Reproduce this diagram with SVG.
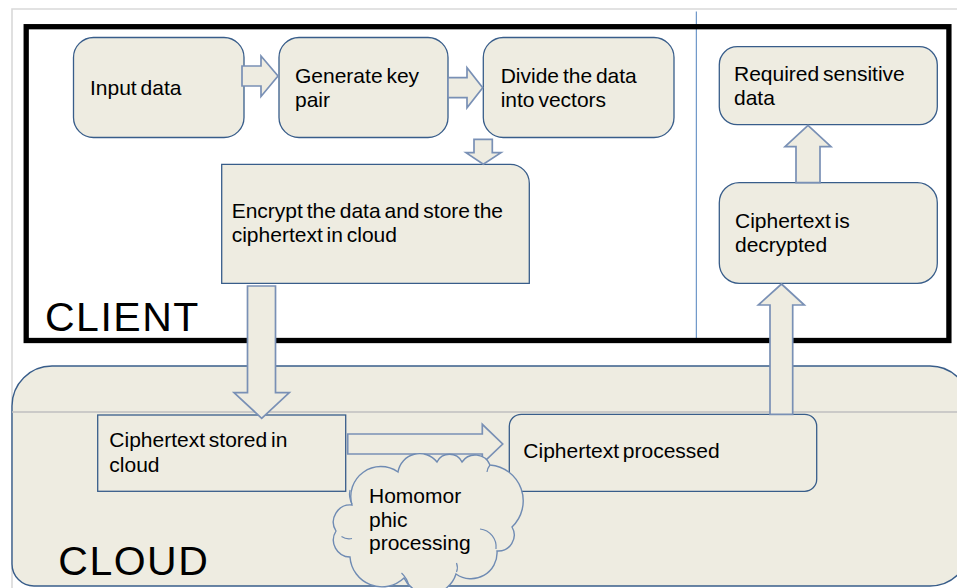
<svg xmlns="http://www.w3.org/2000/svg" width="957" height="588" viewBox="0 0 957 588">
  <style>
    .box { fill: #EEECE1; stroke: #385D8A; stroke-width: 1.3; }
    .arrow { fill: #EEECE1; stroke: #7990B5; stroke-width: 1.7; stroke-linejoin: miter; }
    .lbl { font-family: "Liberation Sans", Arial, sans-serif; font-size: 21px; word-spacing: -2px; fill: #000; }
    .big { font-family: "Liberation Sans", Arial, sans-serif; font-size: 41px; letter-spacing: 1.5px; fill: #000; }
  </style>

  <!-- page -->
  <rect x="0" y="0" width="957" height="588" fill="#fff"/>
  <path d="M12,588 V9 H957" fill="none" stroke="#D9D9D9" stroke-width="1.6"/>

  <!-- cloud region -->
  <g id="cloud-region">
    <path d="M12,406 A40,40 0 0 1 52,366 H930 A40,40 0 0 1 970,406 V546 A40,40 0 0 1 930,586 H34 A22,22 0 0 1 12,564 Z" fill="#EEECE1" stroke="#385D8A" stroke-width="1.4"/>
    <line x1="12" y1="412" x2="957" y2="412" stroke="#BFBFBF" stroke-width="1.6"/>
  </g>

  <!-- divider between encryption and decryption sides -->
  <line x1="696.3" y1="11.5" x2="696.3" y2="338" stroke="#4F81BD" stroke-width="1"/>

  <!-- client frame -->
  <g id="client-frame">
    <rect x="26.2" y="26.7" width="922.7" height="313.8" fill="none" stroke="#000" stroke-width="5.3"/>
  </g>

  <g id="input-data">
    <rect class="box" x="73.5" y="37.5" width="170.5" height="100" rx="20"/>
    <text class="lbl" x="90" y="95">Input data</text>
  </g>

  <g id="generate-key">
    <rect class="box" x="279" y="37.5" width="169" height="100" rx="20"/>
    <text class="lbl" x="295" y="83.3">Generate key</text>
    <text class="lbl" x="295" y="107.3">pair</text>
  </g>

  <g id="divide-data">
    <rect class="box" x="483.3" y="37.5" width="190.7" height="100" rx="20"/>
    <text class="lbl" x="500.7" y="82.7">Divide the data</text>
    <text class="lbl" x="500.7" y="106.7">into vectors</text>
  </g>

  <g id="encrypt-data">
    <path class="box" d="M221.7,164.3 H510.3 A19,19 0 0 1 529.3,183.3 V283.3 H221.7 Z"/>
    <text class="lbl" x="231.7" y="218.3">Encrypt the data and store the</text>
    <text class="lbl" x="231.7" y="242.3">ciphertext in cloud</text>
  </g>

  <g id="required-data">
    <rect class="box" x="719.3" y="46.7" width="218" height="78" rx="18"/>
    <text class="lbl" x="734" y="81">Required sensitive</text>
    <text class="lbl" x="734" y="104.7">data</text>
  </g>

  <g id="ciphertext-decrypted">
    <rect class="box" x="719.3" y="182.7" width="218" height="100.6" rx="20"/>
    <text class="lbl" x="735" y="228.3">Ciphertext is</text>
    <text class="lbl" x="735" y="252.3">decrypted</text>
  </g>

  <g id="ciphertext-stored">
    <rect class="box" x="97.7" y="415" width="248" height="76.3"/>
    <text class="lbl" x="109.3" y="447.3">Ciphertext stored in</text>
    <text class="lbl" x="109.3" y="471.7">cloud</text>
  </g>

  <g id="ciphertext-processed">
    <rect class="box" x="509.3" y="414.3" width="307.4" height="77" rx="12"/>
    <text class="lbl" x="523.3" y="458.3">Ciphertext processed</text>
  </g>

  <!-- block arrows between the steps -->
  <g id="connectors">
    <polygon class="arrow" points="242,66 261,66 261,56 278,76 261,96.5 261,86 242,86"/>
    <polygon class="arrow" points="448,77.7 467,77.7 467,67.7 482.7,87.7 467,107.7 467,97.7 448,97.7"/>
    <polygon class="arrow" points="474,139.3 492.3,139.3 492.3,152.7 501,152.7 483.3,164.3 466,152.7 474,152.7"/>
    <polygon class="arrow" points="247.5,286 275.5,286 275.5,392.7 289.3,392.7 261.7,418.3 234,392.7 247.5,392.7"/>
    <polygon class="arrow" points="347.7,434 482.3,434 482.3,424.3 502.7,444 482.3,463.5 482.3,454 347.7,454"/>
    <polygon class="arrow" points="770,414.3 770,305 758.3,305 781.5,284 804.3,305 792.7,305 792.7,414.3"/>
    <polygon class="arrow" points="796,182.7 796,146.7 785,146.7 808,125.3 831,146.7 820,146.7 820,182.7"/>
  </g>

  <g id="homomorphic-processing">
    <path d="M352,505 A30,30 0 0 1 398,472 A22,22 0 0 1 437,462 A14,14 0 0 1 462,462 A16,16 0 0 1 490,465 A36,36 0 0 1 512,527 A16,16 0 0 1 497,551 A26,26 0 0 1 456,574 A28,28 0 0 1 404,578 A32,32 0 0 1 350,557 A17,17 0 0 1 336,531 A17,17 0 0 1 352,505 Z" fill="#EEECE1" stroke="#6F8BB3" stroke-width="1.4"/>
    <g fill="none" stroke="#6F8BB3" stroke-width="1.2">
      <path d="M350,490 A20,20 0 0 0 352,504"/>
      <path d="M341.5,536.5 A14,14 0 0 0 352,538.5"/>
      <path d="M401.5,573 A26,26 0 0 1 409,586"/>
      <path d="M456.5,563 A12,12 0 0 1 456.5,572"/>
      <path d="M480,529 A18,18 0 0 1 496,549"/>
      <path d="M490,465 A14,14 0 0 0 487,472"/>
    </g>
    <text class="lbl" x="369" y="503.3">Homomor</text>
    <text class="lbl" x="369" y="527.3">phic</text>
    <text class="lbl" x="369" y="550">processing</text>
  </g>

  <text class="big" x="45" y="330.7">CLIENT</text>
  <text class="big" x="58.3" y="575">CLOUD</text>
</svg>
